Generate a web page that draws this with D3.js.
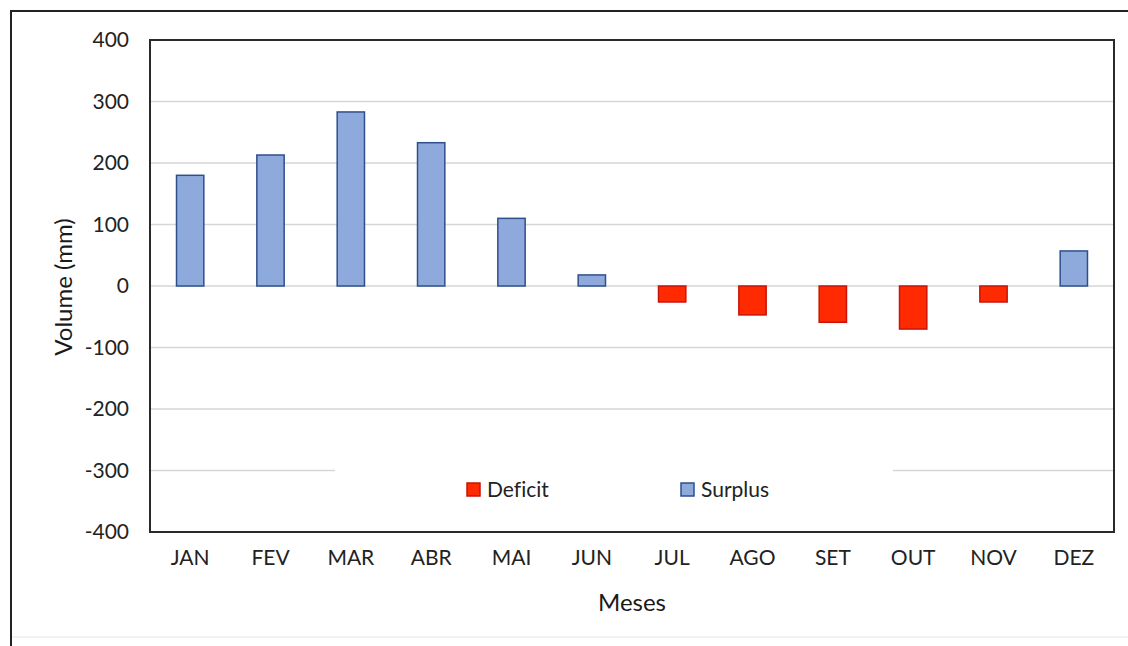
<!DOCTYPE html>
<html>
<head>
<meta charset="utf-8">
<script src="https://cdn.jsdelivr.net/npm/d3@7"></script>
<style>
  html, body { margin: 0; padding: 0; background: #fff; }
  svg { display: block; font-family: Lato, "Open Sans", sans-serif; font-variant-ligatures: none; }
</style>
</head>
<body>
<svg id="chart" width="1128" height="646"></svg>
<script>
// Monthly water balance (mm)
const months = ["JAN","FEV","MAR","ABR","MAI","JUN","JUL","AGO","SET","OUT","NOV","DEZ"];
const surplus = [180, 213, 283, 233, 110, 18, 0, 0, 0, 0, 0, 57];
const deficit = [0, 0, 0, 0, 0, 0, -26, -47, -59, -70, -26, 0];
const yTicks = [400, 300, 200, 100, 0, -100, -200, -300, -400];
const seriesNames = ["Deficit", "Surplus"];

const colors = {
  Deficit: { fill: "#ff2a00", stroke: "#c8140a" },
  Surplus: { fill: "#8eaadc", stroke: "#2f4f8c" }
};

const svg = d3.select("#chart");
const W = 1128, H = 646;
const plot = { left: 150, top: 40, right: 1114, bottom: 532 };

// outer frame
svg.append("line").attr("x1", 11).attr("x2", W).attr("y1", 11).attr("y2", 11)
  .attr("stroke", "#222").attr("stroke-width", 2);
svg.append("line").attr("x1", 11).attr("x2", 11).attr("y1", 10).attr("y2", H)
  .attr("stroke", "#222").attr("stroke-width", 2);
svg.append("line").attr("x1", 12).attr("x2", W).attr("y1", 637).attr("y2", 637)
  .attr("stroke", "#e6e6e6").attr("stroke-width", 1);

const x = d3.scaleBand().domain(months).range([plot.left, plot.right]).padding(0);
const y = d3.scaleLinear().domain([-400, 400]).range([plot.bottom, plot.top]);
const barW = x.bandwidth() * 0.34;

// gridlines
svg.append("g").selectAll("line")
  .data(yTicks.filter(t => t !== 400 && t !== -400))
  .join("line")
  .attr("x1", plot.left).attr("x2", plot.right)
  .attr("y1", d => y(d)).attr("y2", d => y(d))
  .attr("stroke", "#d6d6d6").attr("stroke-width", 1.5);

// bars
const bars = [];
months.forEach((m, i) => {
  if (surplus[i] !== 0) bars.push({ m, v: surplus[i], s: "Surplus" });
  if (deficit[i] !== 0) bars.push({ m, v: deficit[i], s: "Deficit" });
});
svg.append("g").selectAll("rect")
  .data(bars)
  .join("rect")
  .attr("x", d => x(d.m) + x.bandwidth() / 2 - barW / 2)
  .attr("width", barW)
  .attr("y", d => y(Math.max(0, d.v)))
  .attr("height", d => Math.abs(y(d.v) - y(0)))
  .attr("fill", d => colors[d.s].fill)
  .attr("stroke", d => colors[d.s].stroke)
  .attr("stroke-width", 1.5);

// plot border
svg.append("rect")
  .attr("x", plot.left).attr("y", plot.top)
  .attr("width", plot.right - plot.left).attr("height", plot.bottom - plot.top)
  .attr("fill", "none").attr("stroke", "#2a2a2a").attr("stroke-width", 2);

// y axis labels (plain hyphen for negatives)
const yAxis = d3.axisLeft(y).tickValues(yTicks).tickSize(0).tickPadding(21)
  .tickFormat(d => String(d));
const gy = svg.append("g").attr("transform", `translate(${plot.left},0)`).call(yAxis);
gy.select(".domain").remove();
gy.selectAll("text").attr("font-size", 21).attr("fill", "#222")
  .attr("font-family", "Lato, sans-serif");

// x axis labels
const xAxis = d3.axisBottom(x).tickSize(0).tickPadding(18);
const gx = svg.append("g").attr("transform", `translate(0,${plot.bottom})`).call(xAxis);
gx.select(".domain").remove();
gx.selectAll("text").attr("font-size", 21).attr("fill", "#222")
  .attr("font-family", "Lato, sans-serif");

// axis titles
svg.append("text")
  .attr("transform", "translate(72,287) rotate(-90)")
  .attr("text-anchor", "middle")
  .attr("font-size", 24).attr("fill", "#1a1a1a")
  .text("Volume (mm)");
svg.append("text")
  .attr("x", 632).attr("y", 611)
  .attr("text-anchor", "middle")
  .attr("font-size", 24).attr("fill", "#1a1a1a")
  .text("Meses");

// legend
const legend = svg.append("g");
legend.append("rect").attr("x", 335).attr("y", 458).attr("width", 558).attr("height", 56)
  .attr("fill", "#fff");
const legendX = { Deficit: 467, Surplus: 681 };
seriesNames.forEach(s => {
  const g = legend.append("g").attr("transform", `translate(${legendX[s]},483)`);
  g.append("rect").attr("width", 13).attr("height", 13)
    .attr("fill", colors[s].fill).attr("stroke", colors[s].stroke).attr("stroke-width", 1.5);
  g.append("text").attr("x", 20).attr("y", 14)
    .attr("font-size", 21).attr("fill", "#222").text(s);
});
</script>
</body>
</html>
